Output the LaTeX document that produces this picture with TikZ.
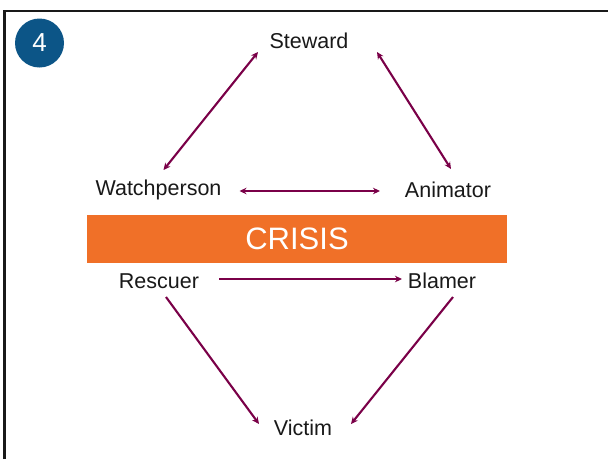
\documentclass[tikz,border=0pt]{standalone}
\usepackage{fontspec}
\setmainfont{Liberation Sans}
\usetikzlibrary{arrows.meta}
\definecolor{crisisorange}{RGB}{240,112,40}
\definecolor{badgeblue}{RGB}{12,85,135}
\definecolor{arrowmaroon}{RGB}{122,0,72}
\tikzset{
  role/.style={inner sep=0pt, font=\fontsize{21.5}{24}\selectfont, text=black!90},
  link/.style={draw=arrowmaroon, line width=2.1pt},
  both/.style={link, {Stealth[length=7pt,width=6.5pt]}-{Stealth[length=7pt,width=6.5pt]}},
  single/.style={link, -{Stealth[length=7pt,width=6.5pt]}},
  frame/.style={line width=2.6pt, draw=black!90}
}
\begin{document}
\begin{tikzpicture}[x=1pt,y=-1pt]
  \useasboundingbox (0,0) rectangle (608,459);
  \fill[white] (0,0) rectangle (608,459);
  % frame
  \draw[frame] (4.5,459) -- (4.5,11) -- (608,11);
  % badge
  \node[circle, fill=badgeblue, minimum size=49pt, inner sep=0pt, text=white,
        font=\fontsize{26}{28}\selectfont] (badge) at (39.5,43) {4};
  % crisis bar
  \node[fill=crisisorange, minimum width=420pt, minimum height=48pt, inner sep=0pt,
        text=white, font=\fontsize{31}{34}\selectfont] (crisis) at (297,239) {CRISIS};
  % roles
  \node[role] (steward) at (309,41) {Steward};
  \node[role] (watch) at (158.5,190) {Watchperson};
  \node[role] (animator) at (448,190) {Animator};
  \node[role] (rescuer) at (159,281) {Rescuer};
  \node[role] (blamer) at (442,281) {Blamer};
  \node[role] (victim) at (303,428) {Victim};
  % connectors
  \draw[both] ([shift={(5,-20)}]watch.center) -- ([shift={(-51,11)}]steward.center);
  \draw[both] ([shift={(68,11)}]steward.center) -- ([shift={(3,-21)}]animator.center);
  \draw[both] ([shift={(81,1)}]watch.center) -- ([shift={(-68,1)}]animator.center);
  \draw[single] ([shift={(60,-2)}]rescuer.center) -- ([shift={(-40,-2)}]blamer.center);
  \draw[single] ([shift={(7,16)}]rescuer.center) -- ([shift={(-44,-4)}]victim.center);
  \draw[single] ([shift={(11,16)}]blamer.center) -- ([shift={(48,-4)}]victim.center);
\end{tikzpicture}
\end{document}
